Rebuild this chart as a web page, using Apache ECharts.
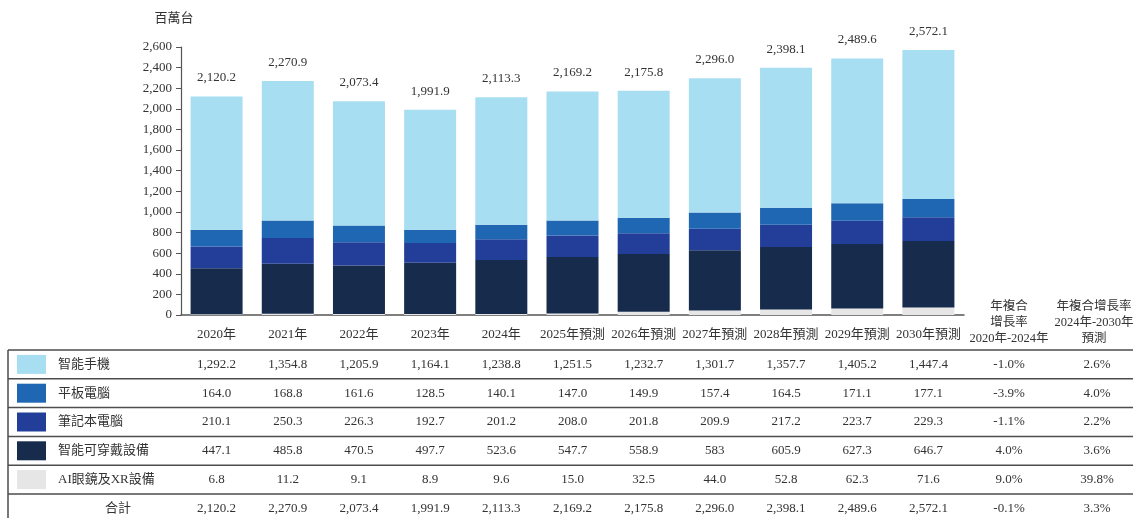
<!DOCTYPE html>
<html><head><meta charset="utf-8">
<script src="https://cdn.jsdelivr.net/npm/echarts@6/dist/echarts.min.js"></script>
<style>html,body{margin:0;padding:0;background:#fff}#c{width:1133px;height:518px}</style>
</head><body><div id="c"></div>
<script>
const categories = ['2020年','2021年','2022年','2023年','2024年','2025年預測','2026年預測','2027年預測','2028年預測','2029年預測','2030年預測'];
const smartphone = [1292.2,1354.8,1205.9,1164.1,1238.8,1251.5,1232.7,1301.7,1357.7,1405.2,1447.4];
const tablet = [164.0,168.8,161.6,128.5,140.1,147.0,149.9,157.4,164.5,171.1,177.1];
const laptop = [210.1,250.3,226.3,192.7,201.2,208.0,201.8,209.9,217.2,223.7,229.3];
const wearable = [447.1,485.8,470.5,497.7,523.6,547.7,558.9,583,605.9,627.3,646.7];
const aiXr = [6.8,11.2,9.1,8.9,9.6,15.0,32.5,44.0,52.8,62.3,71.6];
const totals = [2120.2,2270.9,2073.4,1991.9,2113.3,2169.2,2175.8,2296.0,2398.1,2489.6,2572.1];
const cagr2020_2024 = ['-1.0%','-3.9%','-1.1%','4.0%','9.0%','-0.1%'];
const cagr2024_2030 = ['2.6%','4.0%','2.2%','3.6%','39.8%','3.3%'];
const seriesNames = ['智能手機','平板電腦','筆記本電腦','智能可穿戴設備','AI眼鏡及XR設備'];
const seriesColors = ['#A8DEF1','#2067B3','#233E98','#172B4C','#E6E6E6'];
const totalLabel = '合計';
const unitLabel = '百萬台';
const cagrHeader1 = '年複合\n增長率\n2020年-2024年';
const cagrHeader2 = '年複合增長率\n2024年-2030年\n預測';
const textOverrides = {3: {7: '583'}};

const FONT = '"Liberation Serif","Noto Sans CJK TC",serif';
const TXT = '#333';
const fmt = v => v.toLocaleString('en-US',{minimumFractionDigits:1,maximumFractionDigits:1});

const chart = echarts.init(document.getElementById('c'), null, {renderer:'canvas'});
const stackOrder = [aiXr, wearable, laptop, tablet, smartphone];
const stackIdx = [4,3,2,1,0];
const series = stackOrder.map((d,i) => {
  const k = stackIdx[i];
  const s = {
    name: seriesNames[k], type:'bar', stack:'t', data:d, barWidth:52,
    itemStyle:{color:seriesColors[k]}, emphasis:{disabled:true}
  };
  if (k === 0) {
    s.label = {show:true, position:'top', distance:12, color:TXT, fontFamily:FONT, fontSize:13,
      formatter: p => fmt(totals[p.dataIndex])};
  }
  return s;
});

chart.setOption({
  animation:false,
  grid:{left:181, right:169, top:47, bottom:203},
  xAxis:{type:'category', data:categories,
    axisLine:{lineStyle:{color:'#555', width:1.5}}, axisTick:{show:false},
    axisLabel:{color:TXT, fontFamily:FONT, fontSize:13, margin:13, interval:0}},
  yAxis:{type:'value', min:0, max:2600, interval:200,
    axisLine:{show:true, lineStyle:{color:'#555', width:1.2}},
    axisTick:{show:true, length:5, lineStyle:{color:'#555'}},
    splitLine:{show:false},
    axisLabel:{color:TXT, fontFamily:FONT, fontSize:13, margin:9,
      formatter: v => v.toLocaleString('en-US')}},
  series
});

// table
const rows = [smartphone, tablet, laptop, wearable, aiXr];
const xs = categories.map(c => chart.convertToPixel({xAxisIndex:0}, c));
const cx1 = 1009, cx2 = 1094;
const tableTop = 350, rowH = 28.8;
const g = [];
const txt = (x,y,t,align,extra) => g.push({type:'text', x, y, silent:true,
  style:Object.assign({text:t, fill:TXT, font:'13px '+FONT, align:align||'center', verticalAlign:'middle'}, extra||{})});

g.push({type:'text', x:174, y:19, silent:true, style:{text:unitLabel, fill:TXT, font:'13px '+FONT, align:'center', verticalAlign:'middle'}});
txt(cx1, 323, cagrHeader1, 'center', {lineHeight:16, font:'12.5px '+FONT});
txt(cx2, 323, cagrHeader2, 'center', {lineHeight:16, font:'12.5px '+FONT});

for (let r = 0; r <= 6; r++) {
  const y = tableTop + r*rowH;
  g.push({type:'line', silent:true, shape:{x1:8, y1:y, x2:1133, y2:y}, style:{stroke:'#4d4d4d', lineWidth:1.5}});
}
g.push({type:'line', silent:true, shape:{x1:8, y1:tableTop, x2:8, y2:518}, style:{stroke:'#4d4d4d', lineWidth:1.5}});

rows.forEach((d,r) => {
  const cy = tableTop + r*rowH + rowH/2;
  g.push({type:'rect', silent:true, shape:{x:17, y:cy-9.5, width:29, height:19}, style:{fill:seriesColors[r]}});
  txt(58, cy, seriesNames[r], 'left');
  d.forEach((v,i) => {
    const t = (textOverrides[r] && textOverrides[r][i]) || fmt(v);
    txt(xs[i], cy, t);
  });
  txt(cx1, cy, cagr2020_2024[r]);
  txt(cx2+3, cy, cagr2024_2030[r]);
});
const cyT = tableTop + 5*rowH + rowH/2;
txt(118, cyT, totalLabel);
totals.forEach((v,i) => txt(xs[i], cyT, fmt(v)));
txt(cx1, cyT, cagr2020_2024[5]);
txt(cx2+3, cyT, cagr2024_2030[5]);

chart.setOption({graphic:{elements:g}});
</script></body></html>
